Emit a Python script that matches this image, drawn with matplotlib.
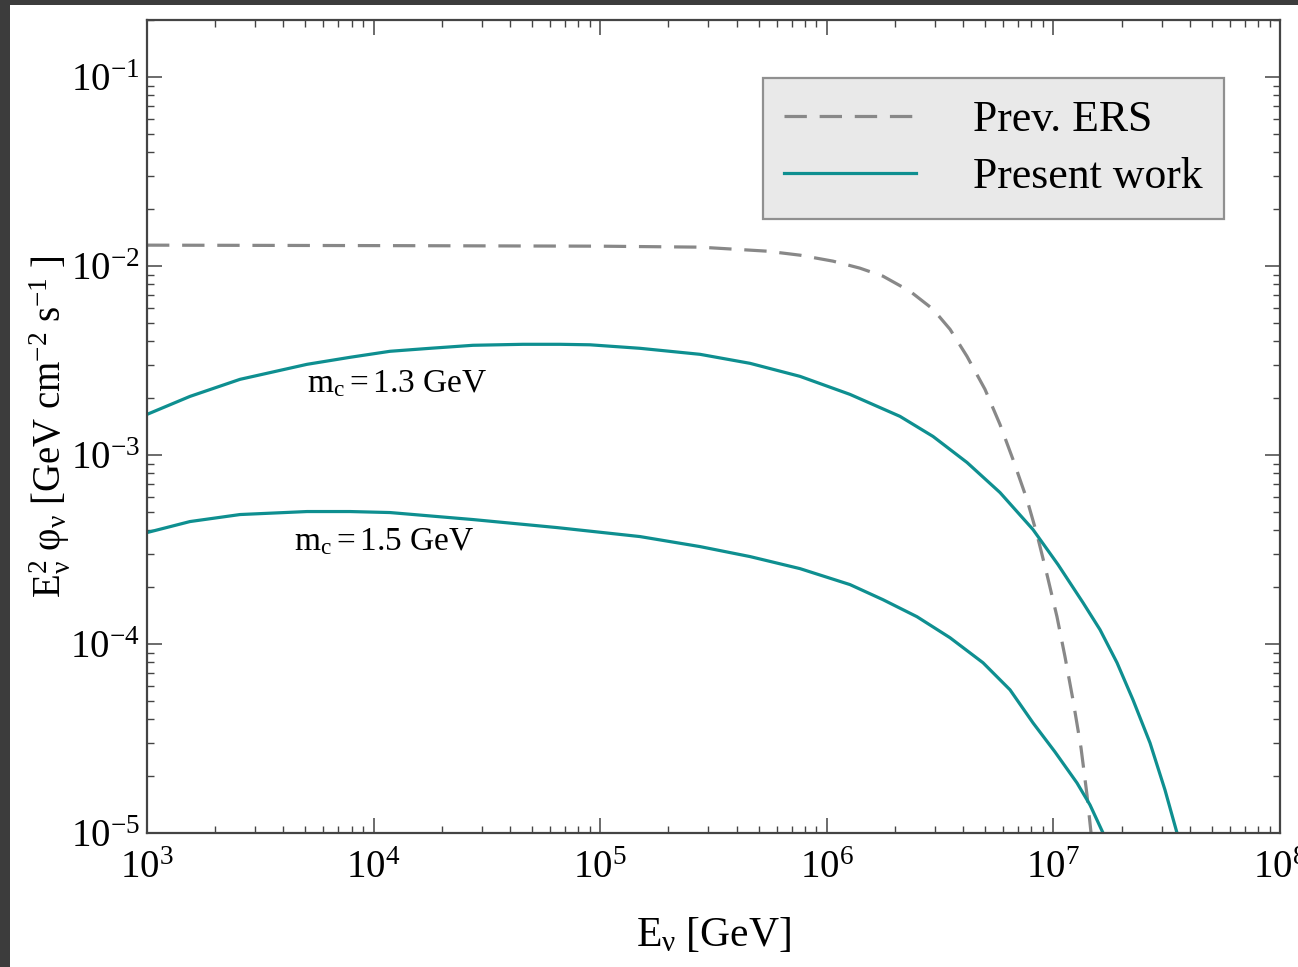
import matplotlib
matplotlib.use("Agg")
import matplotlib.pyplot as plt
from matplotlib.patches import Rectangle

plt.rcParams['font.family'] = ['Liberation Serif', 'DejaVu Serif']
plt.rcParams['mathtext.fontset'] = 'custom'
plt.rcParams['mathtext.rm'] = 'Liberation Serif'
plt.rcParams['mathtext.it'] = 'Liberation Serif:italic'
plt.rcParams['mathtext.bf'] = 'Liberation Serif:bold'

# ---- data ----
ers_E = [1.0e3, 1.308e4, 9.98e4, 2.757e5, 5.447e5, 7.615e5, 1.065e6, 1.401e6, 1.770e6,
         2.329e6, 2.943e6, 3.498e6, 4.156e6, 4.991e6, 5.812e6, 6.632e6, 7.645e6,
         8.468e6, 9.371e6, 1.037e7, 1.125e7, 1.220e7, 1.324e7, 1.407e7, 1.466e7, 1.495e7]
ers_flux = [1.288e-2, 1.280e-2, 1.272e-2, 1.257e-2, 1.197e-2, 1.140e-2, 1.060e-2,
            9.730e-3, 8.826e-3, 7.347e-3, 5.901e-3, 4.622e-3, 3.324e-3, 2.223e-3,
            1.450e-3, 9.467e-4, 5.809e-4, 3.792e-4, 2.327e-4, 1.394e-4, 8.561e-5,
            5.064e-5, 2.820e-5, 1.589e-5, 1.0e-5, 7.19e-6]

m13_E = [1.0e3, 1.548e3, 2.573e3, 5.083e3, 7.867e3, 1.181e4, 1.774e4, 2.746e4, 4.564e4,
         6.646e4, 9.016e4, 1.498e5, 2.757e5, 4.582e5, 7.615e5, 1.266e6, 2.104e6,
         2.943e6, 4.156e6, 5.812e6, 8.128e6, 1.048e7, 1.351e7, 1.606e7, 1.909e7,
         2.245e7, 2.669e7, 3.108e7, 3.512e7, 3.732e7]
m13_flux = [1.639e-3, 2.041e-3, 2.512e-3, 3.016e-3, 3.285e-3, 3.535e-3, 3.666e-3,
            3.803e-3, 3.849e-3, 3.849e-3, 3.826e-3, 3.666e-3, 3.407e-3, 3.053e-3,
            2.605e-3, 2.091e-3, 1.600e-3, 1.253e-3, 9.126e-4, 6.327e-4, 4.030e-4,
            2.630e-4, 1.654e-4, 1.190e-4, 7.956e-5, 5.064e-5, 2.998e-5, 1.689e-5,
            1.0e-5, 7.19e-6]

m15_E = [1.0e3, 1.548e3, 2.573e3, 5.083e3, 7.867e3, 1.181e4, 2.746e4, 6.447e4, 1.498e5,
         2.757e5, 4.582e5, 7.615e5, 1.266e6, 1.770e6, 2.500e6, 3.498e6, 4.891e6,
         6.435e6, 8.128e6, 1.016e7, 1.271e7, 1.451e7, 1.656e7, 1.777e7]
m15_flux = [3.885e-4, 4.443e-4, 4.839e-4, 5.019e-4, 5.019e-4, 4.958e-4, 4.552e-4,
            4.128e-4, 3.700e-4, 3.275e-4, 2.900e-4, 2.504e-4, 2.061e-4, 1.715e-4,
            1.394e-4, 1.079e-4, 7.956e-5, 5.722e-5, 3.825e-5, 2.686e-5, 1.840e-5,
            1.407e-5, 1.0e-5, 8.126e-6]

labels = ["Prev. ERS", "Present work"]
annot_text = [r"$\mathrm{m_c = 1.3\ GeV}$", r"$\mathrm{m_c = 1.5\ GeV}$"]
annot_pos = [(1.27e4, 2.39e-3), (1.11e4, 3.48e-4)]

teal = "#0e8f90"
gray = "#888888"
spine_col = "#444444"

fig = plt.figure(figsize=(12.98, 9.67), dpi=100, facecolor="#3c3c3c")
fig.patches.append(Rectangle((10 / 1298, 0), 1288 / 1298, 962 / 967,
                             transform=fig.transFigure, facecolor="white",
                             edgecolor="none", zorder=-10))
ax = fig.add_axes([147 / 1298, 1 - 833 / 967, (1280 - 147) / 1298, (833 - 20) / 967])
ax.set_zorder(1)

ax.plot(ers_E, ers_flux, color=gray, lw=2.3, dashes=(7, 4), label=labels[0])
ax.plot(m13_E, m13_flux, color=teal, lw=2.3, label=labels[1])
ax.plot(m15_E, m15_flux, color=teal, lw=2.3)

for t, (x, y) in zip(annot_text, annot_pos):
    ax.text(x, y, t, ha="center", va="center", fontsize=24)

ax.set_xscale("log")
ax.set_yscale("log")
ax.set_xlim(1e3, 1e8)
ax.set_ylim(1e-5, 0.2)

ax.set_xlabel(r"$\mathrm{E_ν\ [GeV]}$", fontsize=30, labelpad=21)
ax.set_ylabel(r"$\mathrm{E_ν^2\ φ_ν\ [GeV\ cm^{-2}\ s^{-1}\ ]}$", fontsize=28, labelpad=-1)

for s in ax.spines.values():
    s.set_color(spine_col)
    s.set_linewidth(1.6)
ax.tick_params(which="both", direction="in", top=True, right=True, colors=spine_col,
               labelcolor="black", labelsize=28)
ax.tick_params(which="major", length=11, width=1.1)
ax.tick_params(which="minor", length=5, width=1.0)
ax.tick_params(axis="y", which="major", pad=5)
ax.tick_params(axis="x", which="major", pad=12)

leg = ax.legend(loc="upper right", bbox_to_anchor=(0.9506, 0.9287), borderaxespad=0,
                fontsize=31.5, fancybox=False, framealpha=1, facecolor="#e9e9e9",
                edgecolor="#909090", handlelength=3.0, handletextpad=1.3,
                borderpad=0.5, labelspacing=0.4)
leg.get_frame().set_linewidth(1.6)

fig.savefig("out.png", dpi=100, facecolor=fig.get_facecolor())
